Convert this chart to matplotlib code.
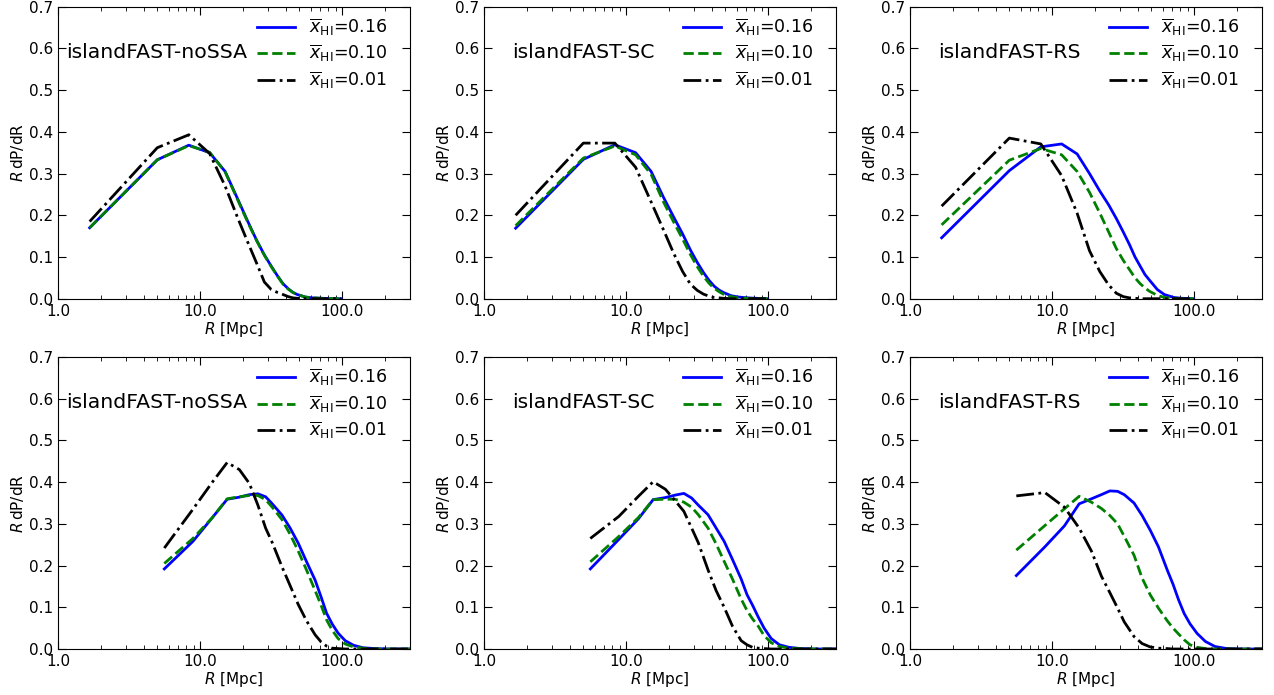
import numpy as np
import matplotlib
matplotlib.use('Agg')
import matplotlib.pyplot as plt
from matplotlib.ticker import FormatStrFormatter, NullFormatter, LogLocator, MultipleLocator

# bubble radius grids [Mpc]
r_top = [1.67, 5.0, 8.33, 11.67, 15.0, 18.33, 21.67, 25.0, 28.33, 31.67,
         35.0, 38.33, 41.67, 45.0, 48.33, 55.0, 61.67, 71.67, 81.67, 98.33]
r_bot = [5.6, 8.9, 12.2, 15.5, 18.9, 22.2, 25.5, 28.9, 32.2, 37.7, 43.0, 49.0,
         56.0, 64.5, 71.0, 77.6, 85.0, 93.6, 105.0, 120.0, 140.0, 170.0, 210.0, 300.0]

models = ['islandFAST-noSSA', 'islandFAST-SC', 'islandFAST-RS']
xhi_labels = ['0.16', '0.10', '0.01']

# top row, R dP/dR for xHI = 0.16, 0.10, 0.01
top_nossa_16 = [0.170, 0.333, 0.368, 0.350, 0.305, 0.240, 0.185, 0.140, 0.105, 0.078,
                0.055, 0.036, 0.024, 0.015, 0.010, 0.004, 0.002, 0.001, 0.0, 0.0]
top_nossa_10 = [0.170, 0.333, 0.367, 0.351, 0.304, 0.238, 0.183, 0.139, 0.104, 0.077,
                0.054, 0.035, 0.023, 0.015, 0.010, 0.004, 0.002, 0.001, 0.0, 0.0]
top_nossa_01 = [0.185, 0.362, 0.393, 0.348, 0.270, 0.195, 0.135, 0.085, 0.040, 0.022,
                0.015, 0.010, 0.005, 0.002, 0.001, 0.0, 0.0, 0.0, 0.0, 0.0]

top_sc_16 = [0.169, 0.334, 0.369, 0.350, 0.305, 0.243, 0.195, 0.155, 0.117, 0.087,
             0.063, 0.044, 0.030, 0.021, 0.015, 0.007, 0.004, 0.002, 0.001, 0.0]
top_sc_10 = [0.175, 0.337, 0.366, 0.345, 0.298, 0.232, 0.183, 0.143, 0.106, 0.077,
             0.054, 0.037, 0.025, 0.017, 0.011, 0.005, 0.002, 0.001, 0.0, 0.0]
top_sc_01 = [0.200, 0.373, 0.373, 0.315, 0.232, 0.165, 0.108, 0.065, 0.035, 0.020,
             0.011, 0.006, 0.003, 0.002, 0.001, 0.0, 0.0, 0.0, 0.0, 0.0]

top_rs_16 = [0.146, 0.307, 0.364, 0.371, 0.347, 0.300, 0.258, 0.225, 0.192, 0.160,
             0.130, 0.100, 0.078, 0.058, 0.045, 0.022, 0.010, 0.003, 0.001, 0.0]
top_rs_10 = [0.177, 0.332, 0.360, 0.345, 0.305, 0.255, 0.205, 0.160, 0.120, 0.092,
             0.070, 0.050, 0.036, 0.026, 0.018, 0.008, 0.003, 0.001, 0.0, 0.0]
top_rs_01 = [0.222, 0.385, 0.371, 0.295, 0.205, 0.115, 0.065, 0.033, 0.013, 0.005,
             0.002, 0.001, 0.0, 0.0, 0.0, 0.0, 0.0, 0.0, 0.0, 0.0]

# bottom row
bot_nossa_16 = [0.192, 0.258, 0.315, 0.359, 0.364, 0.370, 0.372, 0.365, 0.348, 0.321, 0.290, 0.254,
                0.210, 0.165, 0.125, 0.086, 0.060, 0.038, 0.020, 0.009, 0.003, 0.001, 0.0, 0.0]
bot_nossa_10 = [0.205, 0.265, 0.315, 0.360, 0.365, 0.368, 0.368, 0.358, 0.340, 0.310, 0.275, 0.235,
                0.190, 0.140, 0.105, 0.070, 0.045, 0.025, 0.012, 0.005, 0.002, 0.0, 0.0, 0.0]
bot_nossa_01 = [0.242, 0.335, 0.400, 0.447, 0.430, 0.397, 0.345, 0.290, 0.255, 0.197, 0.152, 0.107,
                0.068, 0.034, 0.017, 0.007, 0.002, 0.001, 0.0, 0.0, 0.0, 0.0, 0.0, 0.0]

bot_sc_16 = [0.192, 0.263, 0.312, 0.358, 0.363, 0.369, 0.373, 0.362, 0.345, 0.322, 0.290, 0.258,
             0.215, 0.168, 0.130, 0.105, 0.077, 0.050, 0.025, 0.010, 0.004, 0.001, 0.0, 0.0]
bot_sc_10 = [0.209, 0.270, 0.315, 0.358, 0.359, 0.359, 0.352, 0.340, 0.322, 0.290, 0.252, 0.210,
             0.168, 0.120, 0.092, 0.072, 0.055, 0.032, 0.015, 0.006, 0.002, 0.001, 0.0, 0.0]
bot_sc_01 = [0.265, 0.318, 0.366, 0.401, 0.383, 0.355, 0.330, 0.290, 0.255, 0.190, 0.140, 0.100,
             0.055, 0.020, 0.010, 0.004, 0.002, 0.001, 0.0, 0.0, 0.0, 0.0, 0.0, 0.0]

bot_rs_16 = [0.176, 0.245, 0.295, 0.348, 0.360, 0.370, 0.379, 0.378, 0.370, 0.350, 0.320, 0.285,
             0.245, 0.190, 0.155, 0.118, 0.085, 0.060, 0.037, 0.018, 0.006, 0.001, 0.0, 0.0]
bot_rs_10 = [0.237, 0.296, 0.336, 0.366, 0.352, 0.337, 0.320, 0.300, 0.270, 0.225, 0.170, 0.130,
             0.098, 0.068, 0.050, 0.036, 0.022, 0.010, 0.004, 0.001, 0.0, 0.0, 0.0, 0.0]
bot_rs_01 = [0.367, 0.375, 0.340, 0.290, 0.235, 0.175, 0.135, 0.098, 0.065, 0.030, 0.013, 0.005,
             0.002, 0.001, 0.0, 0.0, 0.0, 0.0, 0.0, 0.0, 0.0, 0.0, 0.0, 0.0]

panels = [
    (r_top, [top_nossa_16, top_nossa_10, top_nossa_01]),
    (r_top, [top_sc_16, top_sc_10, top_sc_01]),
    (r_top, [top_rs_16, top_rs_10, top_rs_01]),
    (r_bot, [bot_nossa_16, bot_nossa_10, bot_nossa_01]),
    (r_bot, [bot_sc_16, bot_sc_10, bot_sc_01]),
    (r_bot, [bot_rs_16, bot_rs_10, bot_rs_01]),
]

colors = ['blue', 'green', 'black']
styles = ['-', '--', '-.']

fig = plt.figure(figsize=(12.74, 6.95), dpi=100)
W, H = 1274.0, 695.0
lefts = [58, 484, 910]
tops = [6.7, 357]
aw, ah = 352, 292

for i, (rr, curves) in enumerate(panels):
    row, col = divmod(i, 3)
    ax = fig.add_axes([lefts[col] / W, 1 - (tops[row] + ah) / H, aw / W, ah / H])
    for yy, c, ls, lab in zip(curves, colors, styles, xhi_labels):
        ax.plot(rr, yy, color=c, ls=ls, lw=2,
                label=r'$\overline{x}_{\rm HI}$=' + lab)
    ax.set_xscale('log')
    ax.set_xlim(1, 300)
    ax.set_ylim(0, 0.7)
    ax.yaxis.set_major_locator(MultipleLocator(0.1))
    ax.xaxis.set_major_locator(LogLocator(base=10))
    ax.xaxis.set_major_formatter(FormatStrFormatter('%.1f'))
    ax.xaxis.set_minor_formatter(NullFormatter())
    ax.tick_params(which='both', direction='in', top=True, right=True, labelsize=11)
    ax.tick_params(which='major', length=6)
    ax.tick_params(which='minor', length=3)
    ax.set_xlabel(r'$R$ [Mpc]', fontsize=11, labelpad=1)
    ax.set_ylabel(r'$R\,$dP/dR', fontsize=11, labelpad=2)
    tx = 0.022 if col == 0 else 0.08
    ax.text(tx, 0.843, models[col], transform=ax.transAxes, fontsize=14.7, va='center')
    ax.legend(loc='upper right', frameon=False, fontsize=12.5, handlelength=2.2,
              labelspacing=0.3, bbox_to_anchor=(0.98, 1.02))

plt.savefig('out.png', dpi=100)
